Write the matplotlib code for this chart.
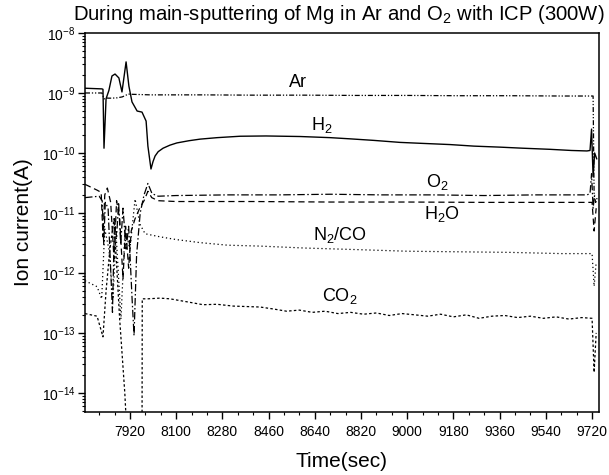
import numpy as np
import matplotlib
matplotlib.use("Agg")
from matplotlib import pyplot as plt
from matplotlib.ticker import MultipleLocator, LogLocator, NullFormatter

plt.rcParams['font.family'] = ['Liberation Sans', 'DejaVu Sans']
plt.rcParams['mathtext.fontset'] = 'custom'
plt.rcParams['mathtext.rm'] = 'Liberation Sans'
plt.rcParams['mathtext.it'] = 'Liberation Sans:italic'

# ion currents (A) vs time (s), read per gas
t_ar = [7745, 7811, 7815, 7819, 7823, 7835, 7850, 7870, 7890, 7905, 7912, 7930, 8000,
        8200, 8400, 8600, 8800, 9000, 9200, 9400, 9600, 9724, 9728, 9734, 9740]
i_ar = [1.0e-9, 1.0e-9, 9.0e-10, 7.9e-10, 8.3e-10, 8.2e-10, 8.2e-10, 8.3e-10, 8.6e-10, 9.2e-10,
        9.6e-10, 9.5e-10, 9.3e-10, 9.3e-10, 9.2e-10, 9.2e-10, 9.1e-10, 9.1e-10, 9.0e-10, 9.0e-10,
        8.9e-10, 8.9e-10, 2.0e-11, 1.5e-11, 1.8e-11]

t_h2 = [7745, 7811, 7815, 7819, 7827, 7838, 7850, 7862, 7877, 7889, 7905, 7916, 7928, 7948,
        7967, 7983, 7990, 8002, 8010, 8018, 8030, 8049, 8076, 8103, 8150, 8193, 8260, 8349,
        8450, 8583, 8700, 8777, 8870, 8972, 9050, 9167, 9260, 9362, 9450, 9556, 9640, 9700,
        9712, 9718, 9724, 9730, 9738]
i_h2 = [1.2e-9, 1.17e-9, 1.15e-9, 1.2e-10, 8.0e-10, 1.1e-9, 1.92e-9, 2.07e-9, 1.78e-9, 1.04e-9,
        3.3e-9, 1.3e-9, 7.1e-10, 5.0e-10, 4.8e-10, 3.4e-10, 1.3e-10, 5.4e-11, 7.2e-11, 8.9e-11,
        1.05e-10, 1.2e-10, 1.35e-10, 1.47e-10, 1.6e-10, 1.7e-10, 1.8e-10, 1.9e-10, 1.92e-10,
        1.88e-10, 1.8e-10, 1.72e-10, 1.62e-10, 1.5e-10, 1.45e-10, 1.38e-10, 1.3e-10, 1.25e-10,
        1.2e-10, 1.15e-10, 1.1e-10, 1.08e-10, 1.1e-10, 2.5e-10, 4.0e-11, 1.0e-10, 8.0e-11]

t_o2 = [7745, 7800, 7812, 7818, 7824, 7835, 7852, 7860, 7868, 7876, 7884, 7893, 7905, 7915,
        7928, 7936, 7946, 7960, 7975, 7990, 8006, 8030, 8100, 8300, 8500, 8700, 8900, 9100,
        9300, 9500, 9700, 9712, 9718, 9724, 9730]
i_o2 = [1.8e-11, 1.9e-11, 1.6e-11, 3.0e-12, 1.5e-11, 1.2e-11, 2.2e-13, 8.0e-12, 4.0e-12,
        1.5e-11, 3.0e-12, 1.2e-11, 2.5e-12, 6.0e-12, 4.0e-13, 9.0e-14, 2.0e-12, 1.0e-11, 2.0e-11,
        3.1e-11, 2.1e-11, 1.9e-11, 1.95e-11, 2.0e-11, 2.0e-11, 2.05e-11, 2.0e-11, 2.0e-11,
        1.95e-11, 2.0e-11, 2.0e-11, 2.1e-11, 4.5e-11, 1.2e-11, 2.0e-11]

t_h2o = [7745, 7792, 7808, 7815, 7822, 7832, 7845, 7858, 7868, 7880, 7893, 7903, 7915, 7925,
         7940, 7958, 7975, 7990, 8005, 8030, 8100, 8400, 8700, 9000, 9300, 9600, 9720, 9728, 9736]
i_h2o = [3.0e-11, 2.4e-11, 2.2e-11, 4.0e-12, 2.0e-11, 2.6e-11, 1.5e-11, 1.7e-12, 1.6e-11,
         8.0e-12, 8.0e-13, 6.0e-12, 1.2e-12, 5.0e-12, 8.0e-12, 1.2e-11, 1.6e-11, 2.3e-11,
         1.8e-11, 1.6e-11, 1.55e-11, 1.55e-11, 1.52e-11, 1.52e-11, 1.5e-11, 1.5e-11, 1.5e-11,
         5.0e-12, 1.2e-11]

t_n2 = [7745, 7792, 7810, 7822, 7838, 7854, 7866, 7885, 7901, 7920, 7940, 7959, 7979, 8037,
        8100, 8193, 8300, 8427, 8600, 8800, 9000, 9200, 9400, 9600, 9720, 9728, 9736]
i_n2 = [7.4e-13, 5.9e-13, 3.7e-13, 5.4e-12, 2.5e-12, 3.7e-13, 4.5e-12, 1.7e-13, 5.4e-12,
        2.5e-12, 1.7e-11, 6.5e-12, 4.5e-12, 4.0e-12, 3.6e-12, 3.2e-12, 2.9e-12, 2.8e-12,
        2.6e-12, 2.45e-12, 2.3e-12, 2.25e-12, 2.2e-12, 2.1e-12, 2.1e-12, 6.0e-13, 1.5e-12]

t_co2 = [7745, 7792, 7815, 7827, 7842, 7858, 7880, 7900, 7912, 7967, 7968, 7990, 8037, 8076,
         8142, 8205, 8259, 8322, 8427, 8480, 8530, 8580, 8630, 8680, 8730, 8780, 8830, 8880,
         8930, 8980, 9030, 9080, 9130, 9180, 9230, 9280, 9330, 9380, 9430, 9480, 9530, 9580,
         9630, 9680, 9720, 9728, 9736]
i_co2 = [2.1e-13, 1.9e-13, 8.6e-14, 5.0e-13, 2.5e-12, 8.0e-12, 1.7e-13, 1.0e-14, 1.0e-15,
         1.0e-15, 3.7e-13, 3.7e-13, 3.8e-13, 3.7e-13, 3.3e-13, 2.95e-13, 3.0e-13, 2.8e-13,
         2.7e-13, 2.5e-13, 2.3e-13, 2.4e-13, 2.2e-13, 2.3e-13, 2.1e-13, 2.2e-13, 2.05e-13,
         2.15e-13, 1.95e-13, 2.1e-13, 2.0e-13, 1.9e-13, 2.05e-13, 1.85e-13, 2.0e-13, 1.75e-13,
         1.9e-13, 1.95e-13, 1.8e-13, 1.9e-13, 1.75e-13, 1.85e-13, 1.7e-13, 1.8e-13, 1.75e-13,
         2.2e-14, 1.0e-13]

fig = plt.figure(figsize=(6.09, 4.75), dpi=100)
ax = fig.add_axes([85/609, 1-412/475, 514/609, 379/475])

lw = 0.9
ax.plot(t_ar, i_ar, color='k', lw=lw, ls=(0, (4, 1.5, 1, 1.5, 1, 1.5)))
ax.plot(t_h2, i_h2, color='k', lw=1.0, ls='-')
ax.plot(t_o2, i_o2, color='k', lw=lw, ls=(0, (6, 2, 1.2, 2)))
ax.plot(t_h2o, i_h2o, color='k', lw=lw, ls=(0, (5, 3)))
ax.plot(t_n2, i_n2, color='k', lw=lw, ls=(0, (1, 2.2)))
ax.plot(t_co2, i_co2, color='k', lw=lw, ls=(0, (2, 1.8)))

ax.set_yscale('log')
ax.set_xlim(7745, 9747)
ax.set_ylim(4.8e-15, 1e-8)
ax.xaxis.set_major_locator(MultipleLocator(180))
ax.xaxis.set_minor_locator(MultipleLocator(60))
ax.yaxis.set_major_locator(LogLocator(base=10, numticks=20))
ax.yaxis.set_minor_locator(LogLocator(base=10, subs=np.arange(2, 10), numticks=20))
ax.yaxis.set_minor_formatter(NullFormatter())
ax.tick_params(which='major', direction='out', length=5, width=1, labelsize=10, pad=2)
ax.tick_params(which='minor', direction='out', length=2.5, width=0.8)
ax.tick_params(axis='x', which='major', pad=4)
for s in ax.spines.values():
    s.set_linewidth(1.1)

# gas labels
ax.text(8575, 1.47e-9, 'Ar', fontsize=13, ha='center', va='center')
ax.text(8668, 2.9e-10, 'H$_2$', fontsize=13, ha='center', va='center')
ax.text(9116, 3.3e-11, 'O$_2$', fontsize=13, ha='center', va='center')
ax.text(9136, 9.6e-12, 'H$_2$O', fontsize=13, ha='center', va='center')
ax.text(8738, 4.3e-12, 'N$_2$/CO', fontsize=13, ha='center', va='center')
ax.text(8738, 4.1e-13, 'CO$_2$', fontsize=13, ha='center', va='center')

ax.set_title('During main-sputtering of Mg in Ar and O$_2$ with ICP (300W)',
             fontsize=14.6, pad=9, x=0.493)
ax.set_xlabel('Time(sec)', fontsize=15, labelpad=10)
ax.set_ylabel('Ion current(A)', fontsize=15, labelpad=6)

fig.savefig('out.png', dpi=100)
